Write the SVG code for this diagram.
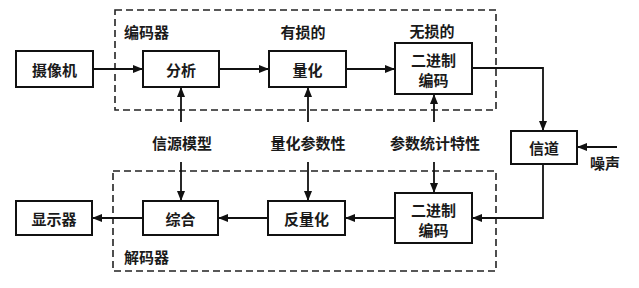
<svg xmlns="http://www.w3.org/2000/svg" width="639" height="288" viewBox="0 0 639 288">
<style>
.box{fill:#fff;stroke:#111;stroke-width:2}
.dash{fill:none;stroke:#222;stroke-width:1.6;stroke-dasharray:7,4}
.ln{fill:none;stroke:#111;stroke-width:1.8}
text{font-family:"Noto Sans CJK SC","Noto Sans CJK TC",sans-serif;font-size:15px;font-weight:bold;fill:#1a1a1a;text-anchor:middle;dominant-baseline:central}
.lbl{text-anchor:start}
</style>
<defs>
<marker id="ah" viewBox="0 0 10 8" refX="10" refY="4" markerWidth="10" markerHeight="8" markerUnits="userSpaceOnUse" orient="auto">
<path d="M0,0L10,4L0,8z" fill="#111"/>
</marker>
</defs>
<rect width="639" height="288" fill="#fff"/>
<g id="encoder">
<rect class="dash" x="115" y="10" width="381" height="100"/>
<text class="lbl" x="124" y="31">编码器</text>
<text x="303" y="31">有损的</text>
<text x="432" y="30">无损的</text>
</g>
<g id="decoder">
<rect class="dash" x="113" y="171" width="383" height="100"/>
<text class="lbl" x="124" y="256">解码器</text>
</g>
<g id="connectors">
<line class="ln" x1="93" y1="69" x2="143" y2="69" marker-end="url(#ah)"/>
<line class="ln" x1="219" y1="69" x2="269" y2="69" marker-end="url(#ah)"/>
<line class="ln" x1="346" y1="69" x2="395" y2="69" marker-end="url(#ah)"/>
<polyline class="ln" points="472,68 543,68 543,131" marker-end="url(#ah)"/>
<line class="ln" x1="617" y1="147" x2="577" y2="147" marker-end="url(#ah)"/>
<polyline class="ln" points="543,164 543,218 472,218" marker-end="url(#ah)"/>
<line class="ln" x1="395" y1="218" x2="345" y2="218" marker-end="url(#ah)"/>
<line class="ln" x1="268" y1="218" x2="218" y2="218" marker-end="url(#ah)"/>
<line class="ln" x1="143" y1="218" x2="92" y2="218" marker-end="url(#ah)"/>
<line class="ln" x1="181" y1="122" x2="181" y2="87" marker-end="url(#ah)"/>
<line class="ln" x1="181" y1="162" x2="181" y2="201" marker-end="url(#ah)"/>
<line class="ln" x1="308" y1="122" x2="308" y2="87" marker-end="url(#ah)"/>
<line class="ln" x1="308" y1="162" x2="308" y2="201" marker-end="url(#ah)"/>
<line class="ln" x1="434" y1="122" x2="434" y2="94" marker-end="url(#ah)"/>
<line class="ln" x1="434" y1="162" x2="434" y2="193" marker-end="url(#ah)"/>
</g>
<g id="lbl-src"><text x="182" y="142">信源模型</text></g>
<g id="lbl-q"><text x="308" y="142">量化参数性</text></g>
<g id="lbl-stat"><text x="435" y="142">参数统计特性</text></g>
<g id="camera"><rect class="box" x="16" y="51" width="77" height="36"/><text x="54.5" y="69">摄像机</text></g>
<g id="analysis"><rect class="box" x="143" y="51" width="76" height="36"/><text x="181" y="69">分析</text></g>
<g id="quant"><rect class="box" x="269" y="51" width="77" height="36"/><text x="307.5" y="69">量化</text></g>
<g id="binenc"><rect class="box" x="395" y="43" width="77" height="51"/><text x="433.5" y="59">二进制</text><text x="433.5" y="79">编码</text></g>
<g id="channel"><rect class="box" x="511" y="131" width="66" height="33"/><text x="544" y="147.5">信道</text></g>
<g id="noise"><text x="605" y="162">噪声</text></g>
<g id="bindec"><rect class="box" x="395" y="193" width="77" height="50"/><text x="433.5" y="209">二进制</text><text x="433.5" y="229">编码</text></g>
<g id="dequant"><rect class="box" x="268" y="201" width="77" height="34"/><text x="306.5" y="218">反量化</text></g>
<g id="synth"><rect class="box" x="143" y="201" width="75" height="34"/><text x="180.5" y="218">综合</text></g>
<g id="display"><rect class="box" x="16" y="201" width="76" height="34"/><text x="54" y="218">显示器</text></g>
</svg>
